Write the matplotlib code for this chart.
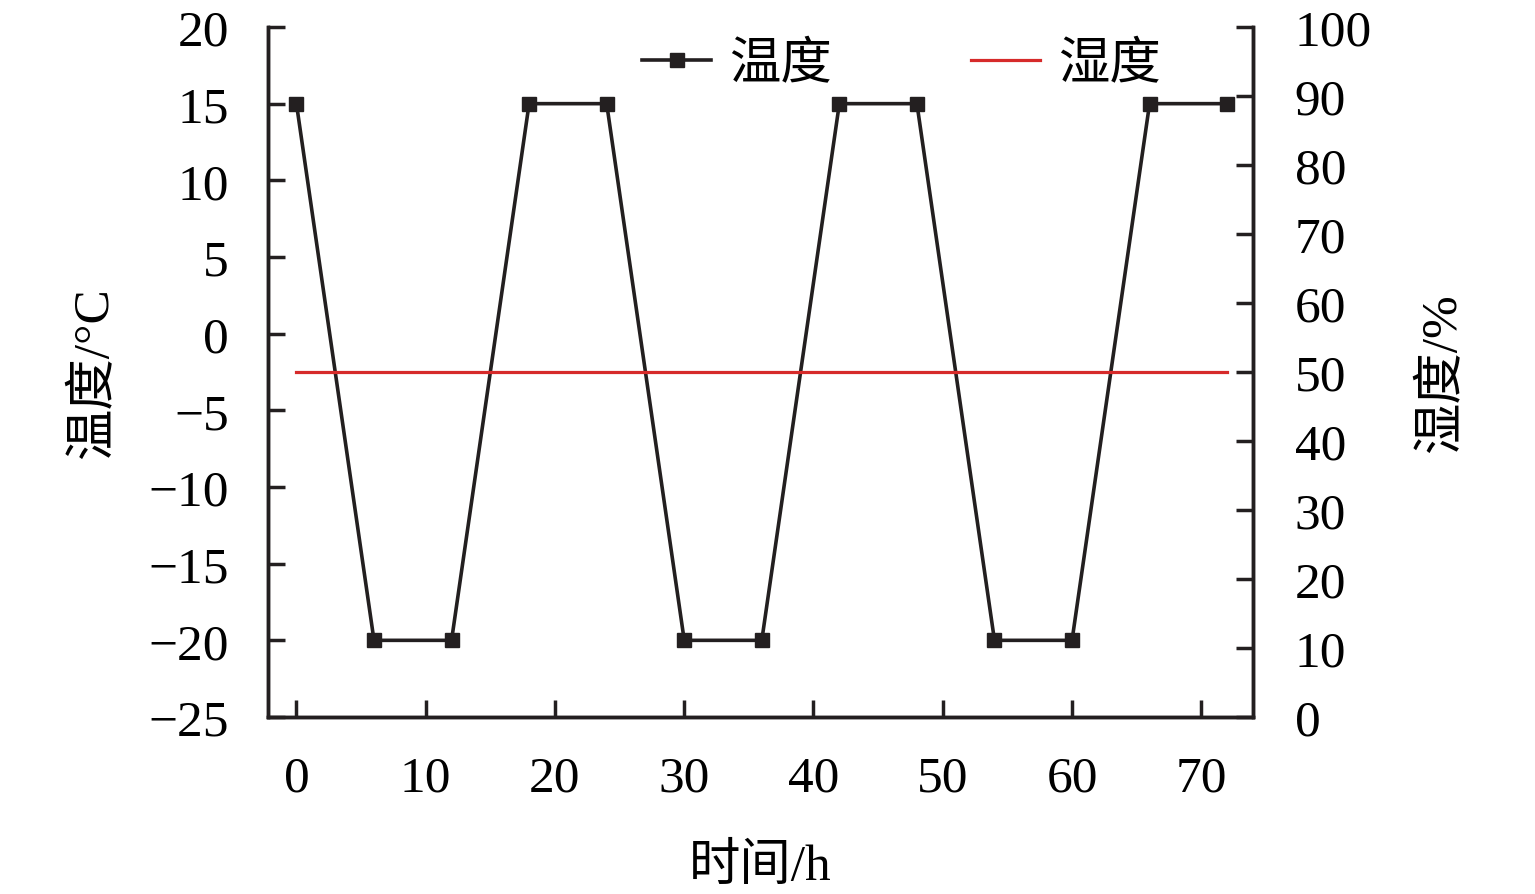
import matplotlib
matplotlib.use('Agg')
import matplotlib.pyplot as plt

plt.rcParams['font.family'] = ['Liberation Serif', 'Noto Sans CJK SC']
plt.rcParams['axes.unicode_minus'] = True

hours = [0, 6, 12, 18, 24, 30, 36, 42, 48, 54, 60, 66, 72]
temperature = [15, -20, -20, 15, 15, -20, -20, 15, 15, -20, -20, 15, 15]
humidity_hours = [0, 72]
humidity = [50, 50]

fig = plt.figure(figsize=(15.35, 8.95), dpi=100)
ax = fig.add_axes([268 / 1535, 1 - 718 / 895, (1253 - 268) / 1535, (718 - 28) / 895])
ax2 = ax.twinx()

l1, = ax.plot(hours, temperature, color='#231f20', lw=2.6, marker='s', ms=10,
              label='温度')
l2, = ax2.plot(humidity_hours, humidity, color='#d62a2a', lw=2.3, label='湿度')

ax.set_xlim(-2.2, 74)
ax.set_ylim(-25, 20)
ax.set_yticks(range(-25, 21, 5))
ax.set_xticks(range(0, 71, 10))
ax2.set_ylim(0, 100)
ax2.set_yticks(range(0, 101, 10))

fs = 37
for a in (ax, ax2):
    a.spines['top'].set_visible(False)
    for s in a.spines.values():
        s.set_linewidth(2.5)
        s.set_color('#231f20')
    a.tick_params(direction='in', length=12, width=2.5, color='#231f20',
                  labelsize=fs)
ax.tick_params(axis='y', pad=28)
ax2.tick_params(axis='y', pad=30)
ax.tick_params(axis='x', pad=27)

ax.set_xlabel('时间/h', fontsize=fs, labelpad=30)
ax.set_ylabel('温度/°C', fontsize=fs, labelpad=22)
ax2.set_ylabel('湿度/%', fontsize=fs, labelpad=34)

ax.legend([l1, l2], ['温度', '湿度'], loc='center', bbox_to_anchor=(0.643, 0.944),
          ncol=2, frameon=False, fontsize=fs, handlelength=1.35, columnspacing=2.7,
          handletextpad=0.35)

fig.savefig('out.png', dpi=100)
